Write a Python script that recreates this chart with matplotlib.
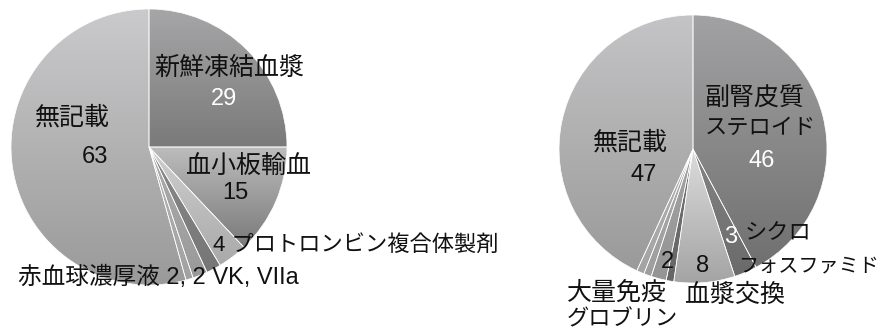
import numpy as np
import matplotlib
matplotlib.use('Agg')
import matplotlib.pyplot as plt
from matplotlib.colors import LinearSegmentedColormap

# Latin and digits in an Arial-like face, Japanese falls through to Noto CJK
plt.rcParams['font.family'] = ['Liberation Sans', 'Noto Sans CJK JP']

# left pie: 輸血・血液製剤
left_names = ['新鮮凍結血漿', '血小板輸血', 'プロトロンビン複合体製剤', '赤血球濃厚液', 'VK', 'VIIa', '無記載']
left_values = [29, 15, 4, 2, 2, 1, 63]
left_top = ['#a6a6a8', '#bdbdbd', '#d0d0d0', '#8a8a8a', '#acacac', '#b4b4b4', '#cacacc']
left_bottom = ['#7a7a7a', '#7a7a7a', '#a9a9a9', '#767676', '#9a9a9a', '#a2a2a2', '#9a9a9a']

# right pie: 治療
right_names = ['副腎皮質ステロイド', 'シクロフォスファミド', '血漿交換', 'その他1', '大量免疫グロブリン', 'その他2', 'その他3', '無記載']
right_values = [46, 3, 8, 1, 2, 1, 1, 47]
right_top = ['#a2a2a4', '#858585', '#dcdcdc', '#727272', '#a3a3a3', '#acacac', '#b2b2b2', '#c4c4c6']
right_bottom = ['#707070', '#6a6a6a', '#a4a4a4', '#666666', '#959595', '#9e9e9e', '#a4a4a4', '#9a9a9a']

W, H = 883, 332
fig = plt.figure(figsize=(W / 100, H / 100), dpi=100)


def pie_axes(cx, cy, r):
    return fig.add_axes([(cx - r) / W, 1 - (cy + r) / H, 2 * r / W, 2 * r / H])


def draw_pie(ax, values, tops, bottoms):
    wedges, _ = ax.pie(values, startangle=90, counterclock=False, radius=1,
                       wedgeprops=dict(edgecolor='white', linewidth=0.5))
    grad = np.linspace(0, 1, 256)[:, None]
    for w, c0, c1 in zip(wedges, tops, bottoms):
        x0, y0, x1, y1 = w.get_path().get_extents().extents
        cmap = LinearSegmentedColormap.from_list('g', [c0, c1])
        im = ax.imshow(grad, cmap=cmap, extent=(x0, x1, y0, y1), origin='upper',
                       aspect='auto', zorder=0.5, interpolation='bilinear')
        im.set_clip_path(w)
        w.set_facecolor('none')
        w.set_zorder(1)
    ax.set_xlim(-1, 1)
    ax.set_ylim(-1, 1)
    ax.axis('off')


def label(x, y, s, color='#111111', size=18, ha='center'):
    fig.text(x / W, 1 - y / H, s, color=color, fontsize=size, ha=ha, va='center')


draw_pie(pie_axes(149, 147, 138), left_values, left_top, left_bottom)
draw_pie(pie_axes(693, 149, 134), right_values, right_top, right_bottom)

# left labels
label(229, 68, left_names[0])
label(224, 99, str(left_values[0]), color='white', size=17)
label(248, 167, left_names[1])
label(235, 193, str(left_values[1]), size=17)
label(213, 245, f'{left_values[2]} {left_names[2]}', ha='left', size=16)
label(18, 277, f'{left_names[3]} {left_values[3]}, {left_values[4]} {left_names[4]}, {left_names[5]}',
      ha='left', size=17)
label(72, 118, left_names[6])
label(95, 157, str(left_values[6]), size=17)

# right labels
label(705, 99, '副腎皮質', ha='left')
label(705, 128, 'ステロイド', ha='left', size=16)
label(762, 161, str(right_values[0]), color='white', size=17)
label(731, 237, str(right_values[1]), color='white', size=17)
label(745, 234, 'シクロ', ha='left', size=16)
label(738, 266, 'フォスファミド', ha='left', size=14.5)
label(703, 266, str(right_values[2]), size=17)
label(685, 295, right_names[2], ha='left')
label(667, 262, str(right_values[4]), size=17)
label(567, 293, '大量免疫', ha='left')
label(567, 320, 'グロブリン', ha='left', size=16)
label(630, 143, right_names[7])
label(644, 175, str(right_values[7]), size=17)

fig.savefig('out.png', dpi=100)
